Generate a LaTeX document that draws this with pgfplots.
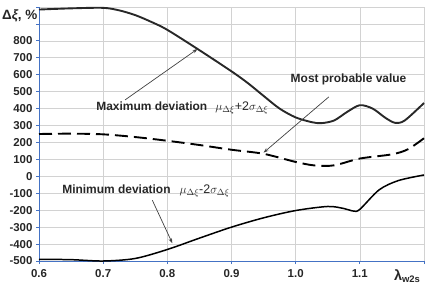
\documentclass[border=0pt]{standalone}
\usepackage{fontspec}
\setmainfont{Liberation Sans}
\usepackage{pgfplots}
\pgfplotsset{compat=1.18}
\usetikzlibrary{arrows.meta}
\definecolor{axblue}{RGB}{68,114,196}
\definecolor{gridgray}{RGB}{210,210,210}
\definecolor{curvegray}{RGB}{40,40,40}
\begin{document}
\begin{tikzpicture}[x=1bp,y=1bp]
\path[use as bounding box] (0,0) rectangle (436,284);
\begin{axis}[
  at={(39bp,23bp)}, anchor=south west,
  scale only axis, width=385bp, height=254bp,
  xmin=0.6, xmax=1.2, ymin=-500, ymax=1000,
  clip=false,
  axis lines=left,
  axis line style={-, axblue, line width=1pt},
  grid=major,
  grid style={gridgray, line width=0.6pt},
  xtick={0.6,0.7,0.8,0.9,1.0,1.1,1.2},
  xticklabels={0.6,0.7,0.8,0.9,1.0,1.1,{}},
  ytick={-500,-400,-300,-200,-100,0,100,200,300,400,500,600,700,800,900,1000},
  yticklabels={-500,-400,-300,-200,-100,0,100,200,300,400,500,600,700,800,{},{}},
  tick align=outside,
  major tick length=3bp,
  tick style={axblue, line width=0.8pt},
  tick label style={font=\bfseries\fontsize{11.5}{12}\selectfont, text=black!85},
  xticklabel style={yshift=-2bp},
]
% Maximum deviation (mu + 2 sigma)
\addplot[curvegray, line width=1.9pt, smooth] coordinates {
(0.6,985) (0.65,992) (0.7,995) (0.725,980) (0.75,952) (0.775,912) (0.8,865)
(0.85,745) (0.9,620) (0.925,552) (0.95,475) (0.975,400) (1.0,348) (1.025,320)
(1.04,314) (1.06,330) (1.08,380) (1.1,420) (1.12,400) (1.14,345) (1.155,316)
(1.17,330) (1.2,433)};
% Most probable value
\addplot[black, line width=1.9pt, dash pattern=on 13bp off 6bp, smooth] coordinates {
(0.6,250) (0.65,252) (0.7,248) (0.75,232) (0.8,210) (0.85,185) (0.9,157)
(0.95,133) (1.0,85) (1.03,64) (1.06,65) (1.1,105) (1.15,130) (1.175,160) (1.2,225)};
% Minimum deviation (mu - 2 sigma)
\addplot[black, line width=1.5pt, smooth] coordinates {
(0.6,-490) (0.65,-492) (0.7,-500) (0.75,-485) (0.8,-432) (0.85,-365) (0.9,-300)
(0.95,-245) (1.0,-202) (1.05,-178) (1.075,-190) (1.09,-205) (1.1,-195)
(1.13,-80) (1.16,-25) (1.2,8)};
% annotations
\node[anchor=west, inner sep=0, font=\bfseries\fontsize{12}{12}\selectfont, text=black!85]
  at (axis cs:0.689,404) {Maximum deviation\hspace{8bp}{\mdseries\fontsize{12.5}{12}\selectfont$\mu_{\Delta\xi}$+2$\sigma_{\Delta\xi}$}};
\node[anchor=west, inner sep=0, font=\bfseries\fontsize{12}{12}\selectfont, text=black!85]
  at (axis cs:0.992,575) {Most probable value};
\node[anchor=west, inner sep=0, font=\bfseries\fontsize{12}{12}\selectfont, text=black!85]
  at (axis cs:0.636,-88) {Minimum deviation\hspace{9bp}{\mdseries\fontsize{12.5}{12}\selectfont$\mu_{\Delta\xi}$-2$\sigma_{\Delta\xi}$}};
\draw[black!75, line width=0.7pt, -{Stealth[length=5bp,width=3.5bp]}] (axis cs:0.734,451) -- (axis cs:0.847,752);
\draw[black!75, line width=0.7pt, -{Stealth[length=5bp,width=3.5bp]}] (axis cs:1.0516,469) -- (axis cs:0.95,140);
\draw[black!75, line width=0.7pt, -{Stealth[length=5bp,width=3.5bp]}] (axis cs:0.7766,-141) -- (axis cs:0.8078,-395);
% axis labels
\node[anchor=base west, inner sep=0, text=black!85] at (axis cs:1.153,-500) [yshift=-19bp]
  {\bfseries\fontsize{14.5}{14}\selectfont λ\raisebox{-2.5bp}{\fontsize{9.5}{10}\selectfont w2s}};
\node[anchor=base west, inner sep=0, text=black!85] at (rel axis cs:0,1) [xshift=-37bp, yshift=-13bp]
  {\bfseries\fontsize{13.5}{13}\selectfont Δ\textit{ξ}, \%};
\end{axis}
\end{tikzpicture}
\end{document}
